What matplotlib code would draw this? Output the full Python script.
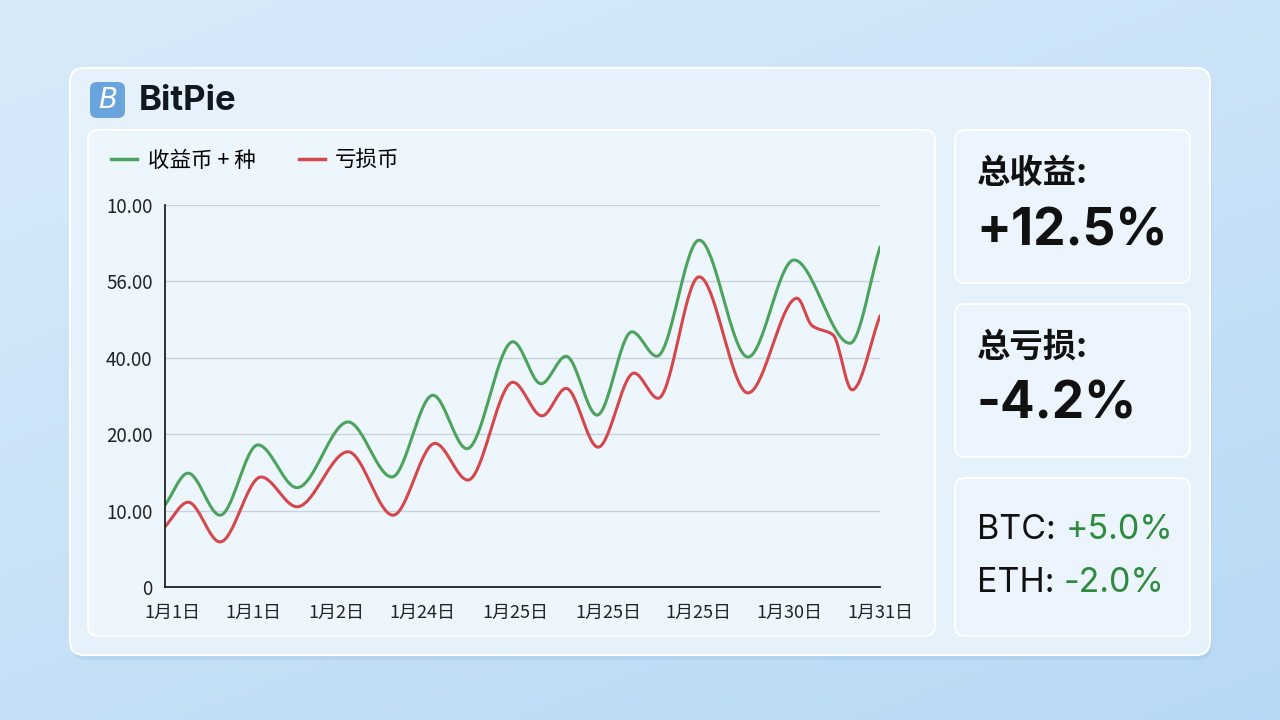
import matplotlib.pyplot as plt
import numpy as np
from matplotlib.patches import FancyBboxPatch
from matplotlib.lines import Line2D

plt.rcParams['font.family'] = ['Noto Sans CJK SC', 'DejaVu Sans']

# valeurs (x en jours depuis le debut, y en unites de grille)
x_vert = [0, 0.97, 2.31, 3.90, 5.54, 7.68, 9.52, 11.24, 12.67, 14.60, 15.78, 16.83,
          18.13, 19.59, 20.64, 22.41, 24.46, 26.39, 28.74, 30.0]
y_vert = [10.7, 14.9, 9.4, 18.6, 13.0, 21.6, 14.4, 25.1, 18.1, 32.1, 26.6, 30.2,
          22.5, 33.4, 30.2, 45.4, 30.1, 42.8, 31.9, 44.5]

x_rouge = [0, 0.97, 2.31, 4.03, 5.54, 7.68, 9.57, 11.33, 12.71, 14.60, 15.82, 16.83,
           18.17, 19.68, 20.69, 22.41, 24.46, 26.52, 27.15, 28.03, 28.83, 30.0]
y_rouge = [7.9, 11.1, 5.9, 14.4, 10.5, 17.7, 9.4, 18.8, 14.0, 26.8, 22.4, 26.0,
           18.3, 28.0, 24.7, 40.6, 25.4, 37.8, 34.2, 33.0, 25.8, 35.5]

pos_x = [0.3, 3.7, 7.2, 10.8, 14.7, 18.6, 22.4, 26.2, 30.0]
labels_x = ['1月1日', '1月1日', '1月2日', '1月24日', '1月25日', '1月25日', '1月25日', '1月30日', '1月31日']
pos_y = [0, 10, 20, 30, 40, 50]
labels_y = ['0', '10.00', '20.00', '40.00', '56.00', '10.00']

noms = ['收益币 + 种', '亏损币']
couleurs = ['#4ca35c', '#d4474b']


def lissage(x, y, n=600):
    # courbe lisse (hermite monotone) qui passe par les points lus
    x = np.asarray(x, float)
    y = np.asarray(y, float)
    h = np.diff(x)
    d = np.diff(y) / h
    m = np.zeros_like(y)
    m[0], m[-1] = d[0], d[-1]
    for k in range(1, len(x) - 1):
        if d[k - 1] * d[k] <= 0:
            m[k] = 0
        else:
            w1 = 2 * h[k] + h[k - 1]
            w2 = h[k] + 2 * h[k - 1]
            m[k] = (w1 + w2) / (w1 / d[k - 1] + w2 / d[k])
    xs = np.linspace(x[0], x[-1], n)
    i = np.clip(np.searchsorted(x, xs) - 1, 0, len(x) - 2)
    t = (xs - x[i]) / h[i]
    h00 = 2 * t**3 - 3 * t**2 + 1
    h10 = t**3 - 2 * t**2 + t
    h01 = -2 * t**3 + 3 * t**2
    h11 = t**3 - t**2
    ys = h00 * y[i] + h10 * h[i] * m[i] + h01 * y[i + 1] + h11 * h[i] * m[i + 1]
    return xs, ys


fig = plt.figure(figsize=(12.8, 7.2), dpi=100)

# fond + cartes (en pixels)
bg = fig.add_axes([0, 0, 1, 1])
bg.set_xlim(0, 1280)
bg.set_ylim(720, 0)
bg.axis('off')
grad = np.linspace(0, 1, 256)
gx, gy = np.meshgrid(grad, grad)
c1 = np.array([0.85, 0.92, 0.98])
c2 = np.array([0.72, 0.85, 0.96])
mix = (0.6 * gy + 0.4 * gx)[..., None]
bg.imshow(c1 * (1 - mix) + c2 * mix, extent=(0, 1280, 720, 0), aspect='auto', zorder=0)


def carte(x0, y0, x1, y1, fc, ec='white', r=12, z=1, ombre=True):
    if ombre:
        bg.add_patch(FancyBboxPatch((x0 + 2, y0 + 5), x1 - x0, y1 - y0,
                                    boxstyle=f'round,pad=0,rounding_size={r}',
                                    fc='#8fb6dc', ec='none', alpha=0.25, zorder=z))
    bg.add_patch(FancyBboxPatch((x0, y0), x1 - x0, y1 - y0,
                                boxstyle=f'round,pad=0,rounding_size={r}',
                                fc=fc, ec=ec, lw=1.5, zorder=z + 0.1))


carte(70, 68, 1210, 655, '#e5f1fb', r=14)
carte(88, 130, 935, 636, '#eef6fd', r=10)
carte(955, 130, 1190, 283, '#ecf5fd', r=10)
carte(955, 304, 1190, 457, '#ecf5fd', r=10)
carte(955, 478, 1190, 636, '#ecf5fd', r=10)

# logo
bg.add_patch(FancyBboxPatch((90, 82), 35, 36, boxstyle='round,pad=0,rounding_size=7',
                            fc='#6aa4dc', ec='none', zorder=3))
bg.text(107.5, 100.5, 'B', color='white', fontsize=20, style='italic', ha='center', va='center',
        family=['DejaVu Sans'], zorder=4)
bg.text(139, 101, 'BitPie', fontsize=25, fontweight='bold', color='#111820', ha='left', va='center',
        family=['Inter', 'DejaVu Sans'], zorder=4)

# cartes de droite
bg.text(977, 173, '总收益:', fontsize=24, fontweight='bold', color='#111', va='center', zorder=4)
bg.text(976, 232, '+12.5%', fontsize=37, fontweight='bold', color='#111', va='center',
        family=['Inter', 'Noto Sans CJK SC'], zorder=4)
bg.text(977, 347, '总亏损:', fontsize=24, fontweight='bold', color='#111', va='center', zorder=4)
bg.text(976, 405, '-4.2%', fontsize=37, fontweight='bold', color='#111', va='center',
        family=['Inter', 'Noto Sans CJK SC'], zorder=4)
t = bg.text(977, 530, 'BTC: ', fontsize=24.5, color='#111', va='center', family=['Inter', 'DejaVu Sans'], zorder=4)
bg.annotate('+5.0%', xycoords=t, xy=(1, 0.5), va='center', fontsize=24.5, color='#2e8a3c',
            family=['Inter', 'DejaVu Sans'], zorder=4)
t = bg.text(977, 583, 'ETH: ', fontsize=24.5, color='#111', va='center', family=['Inter', 'DejaVu Sans'], zorder=4)
bg.annotate('-2.0%', xycoords=t, xy=(1, 0.5), va='center', fontsize=24.5, color='#2e8a3c',
            family=['Inter', 'DejaVu Sans'], zorder=4)

# graphique
ax = fig.add_axes([165 / 1280, 1 - 587 / 720, 715 / 1280, 382 / 720])
ax.patch.set_alpha(0)
for (xx, yy), c, nom in zip([(x_vert, y_vert), (x_rouge, y_rouge)], couleurs, noms):
    xs, ys = lissage(xx, yy)
    ax.plot(xs, ys, color=c, lw=2.2, label=nom, solid_capstyle='round')

ax.set_xlim(0, 30)
ax.set_ylim(0, 50)
ax.set_yticks(pos_y)
ax.set_yticklabels(labels_y)
ax.set_xticks(pos_x)
ax.set_xticklabels(labels_x)
ax.tick_params(length=0, colors='#222')
ax.tick_params(axis='x', pad=12, labelsize=13)
ax.tick_params(axis='y', pad=9, labelsize=13.5)
ax.grid(axis='y', color='#c9d2da', lw=1)
ax.set_axisbelow(True)
for s in ['top', 'right']:
    ax.spines[s].set_visible(False)
ax.spines['left'].set_color('#222')
ax.spines['bottom'].set_color('#222')
ax.spines['left'].set_linewidth(1.3)
ax.spines['bottom'].set_linewidth(1.3)

handles = [Line2D([], [], color=c, lw=2.5) for c in couleurs]
fig.legend(handles, noms, loc='center left', bbox_to_anchor=(92 / 1280, 1 - 161 / 720), ncol=2,
           frameon=False, fontsize=15.5, handlelength=1.2, handletextpad=0.5, columnspacing=2.0)

fig.savefig('out.png', dpi=100)
